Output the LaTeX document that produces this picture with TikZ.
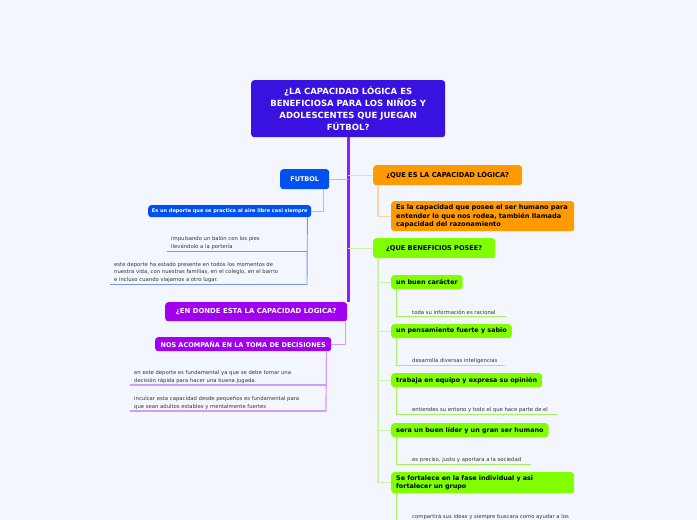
\documentclass[tikz,border=0pt]{standalone}
\usepackage{fontspec}
\setmainfont{DejaVu Sans}
\definecolor{bg}{HTML}{F4F6FE}
\definecolor{mainc}{HTML}{3A12E0}
\definecolor{bluec}{HTML}{0050F2}
\definecolor{bluel}{HTML}{A9C1F7}
\definecolor{bluem}{HTML}{7097F2}
\definecolor{purc}{HTML}{A100F0}
\definecolor{purl}{HTML}{D49BF7}
\definecolor{trunkc}{HTML}{9A1CF0}
\definecolor{orac}{HTML}{FF9A00}
\definecolor{oral}{HTML}{FFD3A3}
\definecolor{grec}{HTML}{80FF00}
\definecolor{grel}{HTML}{C9F5A6}
\definecolor{grem}{HTML}{A8F060}
\definecolor{leafc}{HTML}{333333}
\begin{document}
\begin{tikzpicture}[x=1pt,y=-1pt,
  box/.style={rounded corners=3pt, inner xsep=5pt, inner ysep=0pt, anchor=north west},
  leaf/.style={anchor=south west, inner sep=0pt, align=left, text=leafc, font=\fontsize{5.3}{7.6}\selectfont},
  bl/.style={draw=bluel, line width=1.4pt},
  blm/.style={draw=bluem, line width=0.9pt},
  pl/.style={draw=purl, line width=1.2pt},
  ol/.style={draw=oral, line width=1.4pt},
  gl/.style={draw=grel, line width=1.4pt},
  glm/.style={draw=grem, line width=0.9pt}]
\useasboundingbox (0,0) rectangle (697,520);
\clip (0,0) rectangle (697,520);
\fill[bg] (0,0) rectangle (697,520);

% main node
\node[box, fill=mainc, text=white, minimum width=194pt, minimum height=57pt, align=center,
  font=\bfseries\fontsize{8.5}{12}\selectfont] (main) at (251,80)
  {¿LA CAPACIDAD LÓGICA ES\\BENEFICIOSA PARA LOS NIÑOS Y\\ADOLESCENTES QUE JUEGAN\\FÚTBOL?};

% left side: FUTBOL
\node[box, fill=bluec, text=white, minimum width=49pt, minimum height=20pt,
  font=\bfseries\fontsize{6.5}{8}\selectfont] (futbol) at (280,169) {FUTBOL};
\node[box, fill=bluec, text=white, minimum width=163pt, minimum height=12pt, inner xsep=2pt,
  font=\bfseries\fontsize{5}{6}\selectfont] (deporte) at (148,205) {Es un deporte que se practica al aire libre casi siempre};

% left side: EN DONDE
\node[box, fill=purc, text=white, minimum width=182pt, minimum height=19pt,
  font=\bfseries\fontsize{6.9}{8}\selectfont] (endonde) at (165,302) {¿EN DONDE ESTA LA CAPACIDAD LOGICA?};
\node[box, fill=purc, text=white, minimum width=176pt, minimum height=14pt, inner xsep=2pt,
  font=\bfseries\fontsize{6.5}{8}\selectfont] (nos) at (155,337) {NOS ACOMPAÑA EN LA TOMA DE DECISIONES};

% right side
\node[box, fill=orac, text=black, minimum width=149pt, minimum height=20pt,
  font=\bfseries\fontsize{6.7}{8}\selectfont] (quees) at (373,165) {¿QUE ES LA CAPACIDAD LÓGICA?};
\node[box, fill=orac, text=black, minimum height=30pt, text width=173pt, align=left,
  font=\bfseries\fontsize{6.6}{8.4}\selectfont] (def) at (391,201)
  {Es la capacidad que posee el ser humano para\\entender lo que nos rodea, también llamada\\capacidad del razonamiento};
\node[box, fill=grec, text=black, minimum width=122pt, minimum height=20pt,
  font=\bfseries\fontsize{6.6}{8}\selectfont] (benef) at (373,238) {¿QUE BENEFICIOS POSEE?};

\tikzset{gbox/.style={box, fill=grec, text=black, minimum height=14pt, font=\bfseries\fontsize{6.4}{8.4}\selectfont}}
\node[gbox, minimum width=71pt] (b1) at (391,275) {un buen carácter};
\node[gbox, minimum width=120pt] (b2) at (391,324) {un pensamiento fuerte y sabio};
\node[gbox, minimum width=151pt] (b3) at (391,373) {trabaja en equipo y expresa su opinión};
\node[gbox, minimum width=157pt] (b4) at (391,423) {sera un buen líder y un gran ser humano};
\node[gbox, minimum height=21pt, text width=173pt, align=left] (b5) at (391,472)
  {Se fortalece en la fase individual y asi\\fortalecer un grupo};

% trunk and main branches
\draw[trunkc, line width=3pt] (main.south) -- (main.south |- endonde.north);
\draw[ol] (main.south |- quees.west) -- (quees.west);
\draw[bl] (main.south |- futbol.east) -- (futbol.east);
\draw[gl] (main.south |- benef.west) -- (benef.west);

% orange child
\draw[ol] ([xshift=5pt]quees.south west) |- (def.west);

% FUTBOL children
\draw[bl] ([xshift=-6pt]futbol.south east) |- (deporte.east);
\node[leaf] (f1) at (171,249.5) {impulsando un balón con los pies\\llevándolo a la portería};
\node[leaf] (f2) at (114,282.5) {este deporte ha estado presente en todos los momentos de\\nuestra vida, con nuestras familias, en el colegio, en el barrio\\e incluso cuando viajamos a otro lugar.};
\coordinate (f1a) at (167,251);
\coordinate (f1b) at (307,251);
\coordinate (f2a) at (110,284);
\coordinate (f2b) at (307,284);
\draw[blm] (f1a) -- (f1b);
\draw[blm] (f2a) -- (f2b);
\draw[blm] ([xshift=-4pt]deporte.south east) -- (f2b);

% EN DONDE children
\draw[pl] ([xshift=-2pt]endonde.south east) |- (nos.east);
\node[leaf] (n1) at (134,383.5) {en este deporte es fundamental ya que se debe tomar una\\decisión rápida para hacer una buena jugada.};
\node[leaf] (n2) at (134,409.5) {inculcar esta capacidad desde pequeños es fundamental para\\que sean adultos estables y mentalmente fuertes};
\coordinate (n1a) at (130,385);
\coordinate (n1b) at (326,385);
\coordinate (n2a) at (130,411);
\coordinate (n2b) at (326,411);
\draw[pl] (n1a) -- (n1b);
\draw[pl] (n2a) -- (n2b);
\draw[pl] ([xshift=-5pt]nos.south east) -- (n2b);

% beneficios children
\coordinate (bt) at ([xshift=5pt]benef.south west);
\draw[gl] (bt) |- (b5.west);
\foreach \b in {b1,b2,b3,b4} {\draw[gl] (bt |- \b.west) -- (\b.west);}

\node[leaf] (l1) at (412,314.5) {toda su  información es racional};
\node[leaf] (l2) at (412,363.5) {desarrolla diversas inteligencias};
\node[leaf] (l3) at (412,412.5) {entiendes su entono y todo el que hace parte de el};
\node[leaf] (l4) at (412,462.5) {es preciso, justo y aportara a la sociedad};
\node[leaf] (l5) at (412,519.5) {compartirá sus ideas y siempre buscara como ayudar a los};
\coordinate (l1b) at (506,316);
\coordinate (l2b) at (505,365);
\coordinate (l3b) at (558,414);
\coordinate (l4b) at (531,464);
\coordinate (l5b) at (580,524);
\foreach \b/\l in {b1/l1b,b2/l2b,b3/l3b,b4/l4b,b5/l5b} {
  \draw[glm] ([xshift=5pt]\b.south west) |- (\l);
}
\end{tikzpicture}
\end{document}
